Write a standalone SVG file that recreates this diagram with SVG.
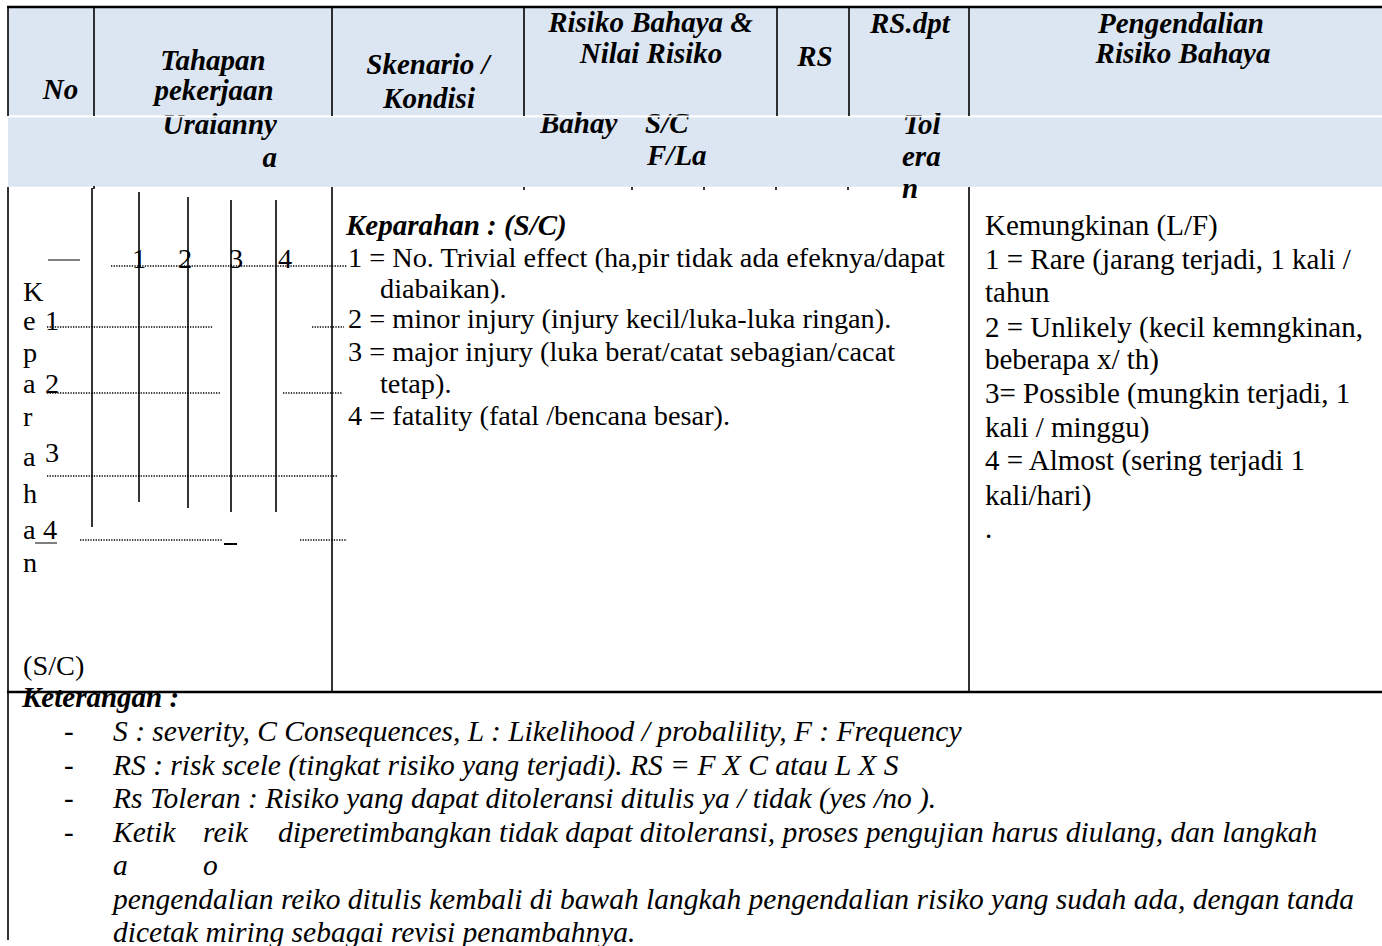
<svg xmlns="http://www.w3.org/2000/svg" width="1382" height="946" viewBox="0 0 1382 946">
<style>
.hb{font-family:"Liberation Serif","Times New Roman",serif;font-weight:bold;font-style:italic;font-size:29px;fill:#000}
.b28{font-family:"Liberation Serif","Times New Roman",serif;font-size:28.3px;fill:#000}
.b29{font-family:"Liberation Serif","Times New Roman",serif;font-size:29px;fill:#000}
.it{font-family:"Liberation Serif","Times New Roman",serif;font-style:italic;font-size:29.5px;fill:#000}
.c{text-anchor:middle}
.e{text-anchor:end}
.ln{stroke:#000;stroke-width:1.6;fill:none}
.thk{stroke:#000;stroke-width:2.4;fill:none}
.dot{stroke:#000;stroke-width:1.3;stroke-dasharray:1.3 1.3;fill:none}
.band{fill:#DCE6F2}
</style>

<g id="header">
  <rect class="band" x="8" y="7" width="1374" height="108.5"/>
  <rect class="band" x="8" y="117.3" width="1374" height="69.5"/>
  <text class="hb c" x="60.5" y="99">No</text>
  <text class="hb c" x="213" y="69.5">Tahapan</text>
  <text class="hb c" x="214" y="100">pekerjaan</text>
  <text class="hb c" x="428" y="74">Skenario /</text>
  <text class="hb c" x="429" y="108">Kondisi</text>
  <text class="hb c" x="650.5" y="32">Risiko Bahaya &amp;</text>
  <text class="hb c" x="651" y="63">Nilai Risiko</text>
  <text class="hb c" x="815" y="66">RS</text>
  <text class="hb" x="870" y="33">RS.dpt</text>
  <text class="hb c" x="1181" y="33">Pengendalian</text>
  <text class="hb c" x="1183" y="63">Risiko Bahaya</text>
</g>

<g id="subheader">
  <text class="hb e" x="277" y="134">Uraianny</text>
  <text class="hb e" x="277" y="167">a</text>
  <text class="hb" x="540" y="133">Bahay</text>
  <text class="hb" x="645" y="133">S/C</text>
  <text class="hb" x="647" y="165">F/La</text>
  <text class="hb" x="903" y="134">Tol</text>
  <text class="hb" x="902" y="166">era</text>
  <text class="hb" x="902" y="198">n</text>
  <rect x="0" y="115.5" width="1382" height="1.8" fill="#fff"/>
</g>

<g id="severity-axis">
  <text class="b28" x="23" y="301">K</text>
  <text class="b28" x="23" y="330">e</text>
  <text class="b28" x="45" y="330">1</text>
  <text class="b28" x="23" y="362">p</text>
  <text class="b28" x="23" y="393">a</text>
  <text class="b28" x="45" y="393">2</text>
  <text class="b28" x="23" y="426">r</text>
  <text class="b28" x="23" y="466">a</text>
  <text class="b28" x="45" y="462">3</text>
  <text class="b28" x="23" y="503">h</text>
  <text class="b28" x="23" y="539">a</text>
  <text class="b28" x="43" y="539">4</text>
  <text class="b28" x="23" y="572">n</text>
  <text class="b28" x="23" y="675">(S/C)</text>
  <text class="b28" x="132" y="268">1</text>
  <text class="b28" x="178" y="268">2</text>
  <text class="b28" x="229" y="268">3</text>
  <text class="b28" x="278" y="268">4</text>
</g>

<g id="keparahan">
  <text class="hb" x="346" y="235">Keparahan : (S/C)</text>
  <text class="b28" x="348" y="267">1 = No. Trivial effect (ha,pir tidak ada efeknya/dapat</text>
  <text class="b28" x="380" y="298">diabaikan).</text>
  <text class="b28" x="348" y="328">2 = minor injury (injury kecil/luka-luka ringan).</text>
  <text class="b28" x="348" y="361">3 = major injury (luka berat/catat sebagian/cacat</text>
  <text class="b28" x="380" y="393">tetap).</text>
  <text class="b28" x="348" y="425">4 = fatality (fatal /bencana besar).</text>
</g>

<g id="kemungkinan">
  <text class="b29" x="985" y="235">Kemungkinan (L/F)</text>
  <text class="b29" x="985" y="269">1 = Rare (jarang terjadi, 1 kali /</text>
  <text class="b29" x="985" y="302">tahun</text>
  <text class="b29" x="985" y="337">2 = Unlikely (kecil kemngkinan,</text>
  <text class="b29" x="985" y="369">beberapa x/ th)</text>
  <text class="b29" x="985" y="403">3= Possible (mungkin terjadi, 1</text>
  <text class="b29" x="985" y="437">kali / minggu)</text>
  <text class="b29" x="985" y="470">4 = Almost (sering terjadi 1</text>
  <text class="b29" x="985" y="505">kali/hari)</text>
  <text class="b29" x="985" y="538">.</text>
</g>

<g id="keterangan">
  <text class="hb" x="22" y="707">Keterangan :</text>
  <text class="b29" x="64" y="741">-</text>
  <text class="b29" x="64" y="774.5">-</text>
  <text class="b29" x="64" y="808">-</text>
  <text class="b29" x="64" y="841.5">-</text>
  <text class="it" x="113" y="741">S : severity, C Consequences, L : Likelihood / probalility, F : Frequency</text>
  <text class="it" x="113" y="774.5">RS : risk scele (tingkat risiko yang terjadi). RS = F X C atau L X S</text>
  <text class="it" x="113" y="808">Rs Toleran : Risiko yang dapat ditoleransi ditulis ya / tidak (yes /no ).</text>
  <text class="it" x="113" y="841.5">Ketik</text>
  <text class="it" x="203" y="841.5">reik</text>
  <text class="it" x="278" y="841.5">diperetimbangkan tidak dapat ditoleransi, proses pengujian harus diulang, dan langkah</text>
  <text class="it" x="113" y="875">a</text>
  <text class="it" x="203" y="875">o</text>
  <text class="it" x="113" y="908.5">pengendalian reiko ditulis kembali di bawah langkah pengendalian risiko yang sudah ada, dengan tanda</text>
  <text class="it" x="113" y="942">dicetak miring sebagai revisi penambahnya.</text>
</g>

<g id="connectors">
  <line class="thk" x1="7" y1="7" x2="1382" y2="7"/>
  <line class="ln" x1="8" y1="7" x2="8" y2="116"/>
  <line class="ln" x1="94" y1="7" x2="94" y2="116"/>
  <line class="ln" x1="332" y1="7" x2="332" y2="116"/>
  <line class="ln" x1="524" y1="7" x2="524" y2="116"/>
  <line class="ln" x1="777" y1="7" x2="777" y2="116"/>
  <line class="ln" x1="849" y1="7" x2="849" y2="116"/>
  <line class="ln" x1="969" y1="7" x2="969" y2="116"/>
  <line class="ln" x1="8" y1="187" x2="8" y2="940"/>
  <line class="ln" x1="332" y1="187" x2="332" y2="692"/>
  <line class="ln" x1="969" y1="187" x2="969" y2="692"/>
  <g class="ln">
    <line x1="94" y1="186" x2="94" y2="189"/>
    <line x1="524" y1="187" x2="524" y2="190"/>
    <line x1="632" y1="187" x2="632" y2="190"/>
    <line x1="704" y1="187" x2="704" y2="190"/>
    <line x1="776" y1="187" x2="776" y2="190"/>
    <line x1="848" y1="187" x2="848" y2="190"/>
  </g>
  <line class="thk" x1="7" y1="692" x2="1382" y2="692"/>
  <line class="ln" x1="92" y1="188" x2="92" y2="527"/>
  <line class="ln" x1="139" y1="192" x2="139" y2="502"/>
  <line class="ln" x1="188" y1="197" x2="188" y2="508"/>
  <line class="ln" x1="231" y1="200" x2="231" y2="512"/>
  <line class="ln" x1="276" y1="200" x2="276" y2="512"/>
  <line stroke="#000" stroke-width="1" x1="48" y1="260" x2="80" y2="260"/>
  <line stroke="#000" stroke-width="1" x1="35" y1="543" x2="57" y2="543"/>
  <line stroke="#000" stroke-width="2" x1="224" y1="544" x2="237" y2="544"/>
  <line class="dot" x1="111" y1="266" x2="347" y2="266"/>
  <line class="dot" x1="47" y1="327" x2="213" y2="327"/>
  <line class="dot" x1="312" y1="327" x2="344" y2="327"/>
  <line class="dot" x1="47" y1="393" x2="220" y2="393"/>
  <line class="dot" x1="283" y1="393" x2="342" y2="393"/>
  <line class="dot" x1="47" y1="476" x2="338" y2="476"/>
  <line class="dot" x1="80" y1="540" x2="223" y2="540"/>
  <line class="dot" x1="300" y1="540" x2="347" y2="540"/>
</g>
</svg>
